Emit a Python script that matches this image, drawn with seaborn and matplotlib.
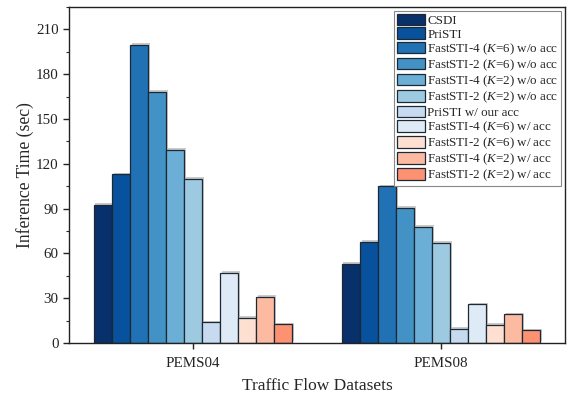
import matplotlib
matplotlib.use("Agg")
import matplotlib.pyplot as plt
import matplotlib.patheffects as pe
from matplotlib.ticker import MultipleLocator, AutoMinorLocator
import seaborn as sns
import pandas as pd

datasets = ["PEMS04", "PEMS08"]
methods = [
    "CSDI",
    "PriSTI",
    "FastSTI-4 ($K$=6) w/o acc",
    "FastSTI-2 ($K$=6) w/o acc",
    "FastSTI-4 ($K$=2) w/o acc",
    "FastSTI-2 ($K$=2) w/o acc",
    "PriSTI w/ our acc",
    "FastSTI-4 ($K$=6) w/ acc",
    "FastSTI-2 ($K$=6) w/ acc",
    "FastSTI-4 ($K$=2) w/ acc",
    "FastSTI-2 ($K$=2) w/ acc",
]
pems04 = [92.3, 113.0, 199.6, 168.0, 129.3, 110.0, 13.8, 46.8, 16.8, 31.0, 12.5]
pems08 = [52.8, 67.8, 104.8, 90.6, 77.8, 67.2, 9.4, 26.0, 12.0, 19.3, 8.4]
colors = ["#08306b", "#08519c", "#2171b5", "#4292c6", "#6baed6", "#9ecae1",
          "#c6dbef", "#deebf7", "#fee0d2", "#fcbba1", "#fc9272"]

rows = []
for m, a, b in zip(methods, pems04, pems08):
    rows.append({"dataset": datasets[0], "method": m, "time": a})
    rows.append({"dataset": datasets[1], "method": m, "time": b})
df = pd.DataFrame(rows)

sns.set_style("ticks")
plt.rcParams["font.family"] = ["Liberation Serif", "DejaVu Serif"]
plt.rcParams["mathtext.fontset"] = "custom"
plt.rcParams["mathtext.rm"] = "Liberation Serif"
plt.rcParams["mathtext.it"] = "Liberation Serif:italic"

fig = plt.figure(figsize=(5.76, 4.01), dpi=100)
ax = fig.add_axes([69/576, 1-343/401, (565-69)/576, (343-7)/401])

sns.barplot(data=df, x="dataset", y="time", hue="method", hue_order=methods,
            order=datasets, palette=colors, width=0.8, edgecolor="#1c2833",
            linewidth=0.9, ax=ax, errorbar=None, saturation=1)

for p in ax.patches:
    p.set_path_effects([pe.SimplePatchShadow(offset=(1.2, 1.2), shadow_rgbFace="#999999", alpha=0.5), pe.Normal()])

ax.set_xlim(-0.5, 1.5)
ax.set_ylim(0, 225)
ax.yaxis.set_major_locator(MultipleLocator(30))
ax.yaxis.set_minor_locator(AutoMinorLocator(2))
for s in ax.spines.values():
    s.set_visible(True)
    s.set_linewidth(1.0)
    s.set_color("#222222")
ax.tick_params(axis="both", which="major", direction="out", length=4, width=1, labelsize=10.8, colors="#222222")
ax.tick_params(axis="y", which="minor", direction="out", length=2.5, width=0.8)
ax.tick_params(axis="x", pad=6)
ax.set_xlabel("Traffic Flow Datasets", fontsize=12.5, labelpad=6)
ax.set_ylabel("Inference Time (sec)", fontsize=12.7, labelpad=1.5)

leg = ax.legend(loc="upper right", fontsize=9.4, frameon=True, fancybox=False,
                edgecolor="#888888", framealpha=1, handlelength=2.1, handleheight=0.98,
                handletextpad=0.2, labelspacing=0.05, borderpad=0.2,
                borderaxespad=0.3)
leg.get_frame().set_linewidth(0.8)
for h in leg.legend_handles:
    h.set_path_effects([])

fig.savefig("out.png", dpi=100)
